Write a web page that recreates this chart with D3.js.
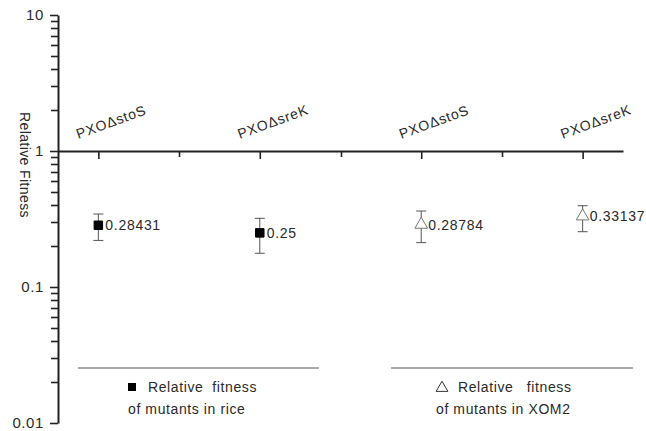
<!DOCTYPE html>
<html lang="en">
<head>
<meta charset="utf-8">
<title>Relative Fitness</title>
<script src="https://d3js.org/d3.v7.min.js"></script>
<style>
  body { margin: 0; background: #fff; }
  text { font-family: "Liberation Sans", Arial, sans-serif; fill: #2a2a2a; }
</style>
</head>
<body>
<svg width="646" height="431"></svg>
<script>
    // data
    var categories = ["PXOΔstoS", "PXOΔsreK", "PXOΔstoS", "PXOΔsreK"];
    var xPos = [1, 3, 5, 7];
    var values = [0.28431, 0.25, 0.28784, 0.33137];
    var errLow = [0.22, 0.177, 0.212, 0.255];
    var errHigh = [0.344, 0.32, 0.362, 0.396];
    var groupOf = ["rice", "rice", "xom", "xom"];
    var majorTicks = [0.01, 0.1, 1, 10];
    var majorLabels = ["0.01", "0.1", "1", "10"];

    var svg = d3.select("svg");

    var x = d3.scaleLinear().domain([0.5, 7.5]).range([58, 623]);
    var y = d3.scaleLog().domain([0.01, 10]).range([423, 15]);

    var gy = svg.append("g")
        .attr("transform", "translate(58,0)")
        .call(d3.axisLeft(y).tickValues(majorTicks).tickSize(8).tickSizeOuter(0)
            .tickFormat(function(d, i){ return majorLabels[i]; }));
    gy.select(".domain").attr("stroke", "#222").attr("stroke-width", 2);
    gy.selectAll("line").attr("stroke", "#222").attr("stroke-width", 1.6);
    gy.selectAll("text")
        .attr("x", -14)
        .style("font-size", "15px")
        .style("letter-spacing", "0.6px")
        .style("font-family", "'Liberation Sans', Arial, sans-serif")
        .attr("fill", "#333");

    // minor y ticks (2..9 in each decade)
    var minor = [];
    [0.01, 0.1, 1].forEach(function(d){
        for (var k = 2; k <= 9; k++) minor.push(d * k);
    });
    svg.selectAll(".yminor")
        .data(minor)
        .enter()
        .append("line")
        .attr("class", "yminor")
        .attr("x1", 51).attr("x2", 58)
        .attr("y1", function(d){ return Math.round(y(d)) + 0.5; })
        .attr("y2", function(d){ return Math.round(y(d)) + 0.5; })
        .attr("stroke", "#222").attr("stroke-width", 1.6);

    // axis title
    svg.append("text")
        .attr("transform", "translate(20,165) rotate(90)")
        .attr("text-anchor", "middle")
        .style("font-size", "14px")
        .style("letter-spacing", "0.4px")
        .text("Relative Fitness");

    // horizontal line at 1 with category ticks
    var gx = svg.append("g")
        .attr("transform", "translate(0," + y(1) + ")")
        .call(d3.axisBottom(x).tickValues(xPos).tickSize(8).tickSizeOuter(0).tickFormat(""));
    gx.select(".domain").attr("stroke", "#222").attr("stroke-width", 2);
    gx.selectAll("line").attr("stroke", "#222").attr("stroke-width", 1.6);

    svg.selectAll(".xminor")
        .data([2, 4, 6])
        .enter()
        .append("line")
        .attr("class", "xminor")
        .attr("x1", function(d){ return Math.round(x(d)) + 0.5; })
        .attr("x2", function(d){ return Math.round(x(d)) + 0.5; })
        .attr("y1", y(1)).attr("y2", y(1) + 6)
        .attr("stroke", "#222").attr("stroke-width", 1.6);

    // category labels
    svg.selectAll(".cat")
        .data(categories)
        .enter()
        .append("text")
        .attr("class", "cat")
        .attr("transform", function(d, i){
            return "translate(" + (x(xPos[i]) - 20) + "," + (y(1) - 12) + ") rotate(-20)";
        })
        .style("font-size", "14px")
        .style("letter-spacing", "0.8px")
        .text(function(d){ return d; });

    // error bars
    var gs = svg.selectAll(".pt")
        .data(values)
        .enter()
        .append("g")
        .attr("class", "pt");

    gs.append("line")
        .attr("x1", function(d, i){ return x(xPos[i]); })
        .attr("x2", function(d, i){ return x(xPos[i]); })
        .attr("y1", function(d, i){ return y(errLow[i]); })
        .attr("y2", function(d, i){ return y(errHigh[i]); })
        .attr("stroke", "#555").attr("stroke-width", 1);
    [errLow, errHigh].forEach(function(arr){
        gs.append("line")
            .attr("x1", function(d, i){ return x(xPos[i]) - 5; })
            .attr("x2", function(d, i){ return x(xPos[i]) + 5; })
            .attr("y1", function(d, i){ return y(arr[i]); })
            .attr("y2", function(d, i){ return y(arr[i]); })
            .attr("stroke", "#555").attr("stroke-width", 1);
    });

    // markers
    gs.append("path")
        .attr("transform", function(d, i){ return "translate(" + x(xPos[i]) + "," + y(d) + ")"; })
        .attr("d", function(d, i){
            return groupOf[i] === "rice"
                ? d3.symbol().type(d3.symbolSquare).size(72)()
                : d3.symbol().type(d3.symbolTriangle).size(70)();
        })
        .attr("fill", function(d, i){ return groupOf[i] === "rice" ? "#000" : "#fff"; })
        .attr("stroke", function(d, i){ return groupOf[i] === "rice" ? "#000" : "#777"; })
        .attr("stroke-width", 1);

    gs.append("text")
        .attr("x", function(d, i){ return x(xPos[i]) + 7; })
        .attr("y", function(d){ return y(d) + 5; })
        .style("font-size", "14px")
        .style("letter-spacing", "0.7px")
        .text(function(d){ return d; });

    // legend
    var legendLines = [[78, 319], [391, 633]];
    svg.selectAll(".legline")
        .data(legendLines)
        .enter()
        .append("line")
        .attr("x1", function(d){ return d[0]; })
        .attr("x2", function(d){ return d[1]; })
        .attr("y1", 368).attr("y2", 368)
        .attr("stroke", "#555").attr("stroke-width", 1);

    svg.append("rect")
        .attr("x", 128).attr("y", 383).attr("width", 8).attr("height", 8)
        .attr("fill", "#000");
    svg.append("path")
        .attr("transform", "translate(442,388)")
        .attr("d", d3.symbol().type(d3.symbolTriangle).size(60)())
        .attr("fill", "none").attr("stroke", "#333").attr("stroke-width", 1);

    var legText = [
        {x: 148, y: 392, t: "Relative  fitness"},
        {x: 128, y: 414, t: "of mutants in rice"},
        {x: 458, y: 392, t: "Relative   fitness"},
        {x: 436, y: 414, t: "of mutants in XOM2"}
    ];
    svg.selectAll(".legtext")
        .data(legText)
        .enter()
        .append("text")
        .attr("x", function(d){ return d.x; })
        .attr("y", function(d){ return d.y; })
        .style("font-size", "14px")
        .style("letter-spacing", "0.6px")
        .style("white-space", "pre")
        .text(function(d){ return d.t; });
</script>
</body>
</html>
